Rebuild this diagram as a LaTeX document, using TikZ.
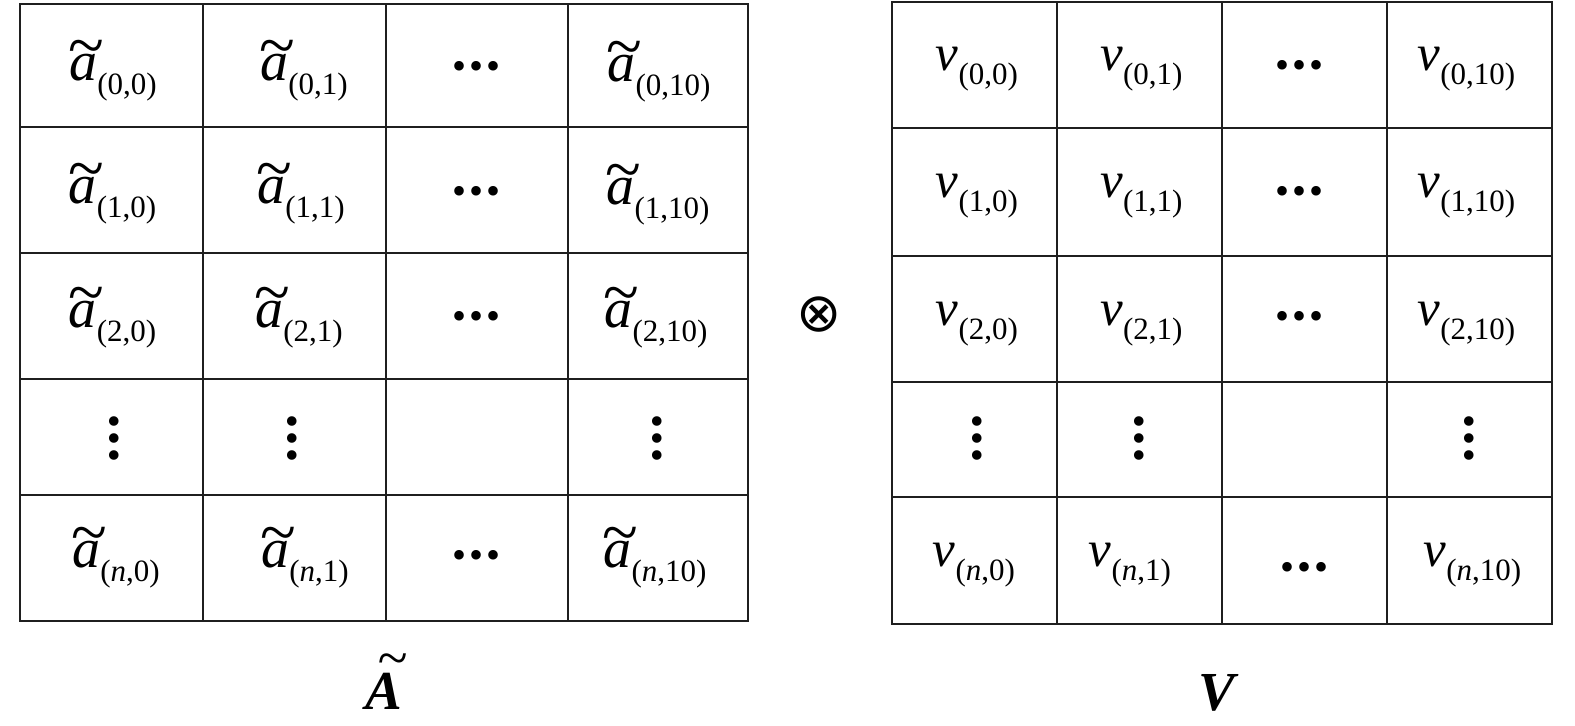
\documentclass[tikz,border=0pt]{standalone}
\usepackage{fontspec}
\setmainfont{Liberation Serif}
\newfontfamily\djv{DejaVu Sans}
\tikzset{
  x=0.5pt, y=-0.5pt,
  gridline/.style={line width=1.35pt, draw=black!88},
  entry/.style={inner sep=0pt, anchor=base},
  dotsbox/.style={inner sep=0pt, anchor=center},
  vdotsbox/.style={inner sep=0pt, anchor=center, rotate=90},
  biglabel/.style={inner sep=0pt, anchor=base, font=\fontsize{27.5}{28}\selectfont\bfseries\itshape},
}
\newcommand\asz{\fontsize{28}{30}\selectfont}
\newcommand\vsz{\fontsize{25.5}{30}\selectfont}
\newcommand\subsz{\fontsize{15.5}{16}\selectfont}
\newcommand\tila{\rlap{\raisebox{6.6pt}{\hspace{-0.4pt}\fontsize{33}{33}\selectfont\char"7E}}\textit{a}}
\newcommand\ta[1]{{\asz\tila}\raisebox{-7pt}{\subsz(#1)}}
\newcommand\tv[1]{{\vsz\textit{v}}\raisebox{-7pt}{\subsz(#1)}}
\newcommand\tilA{\rlap{\raisebox{16.8pt}{\hspace{5.8pt}\mdseries\char"7E}}A}
\newcommand\hdotsx{{\fontsize{20}{20}\selectfont\textbullet\kern1.5pt\textbullet\kern1.5pt\textbullet}}
\begin{document}
\begin{tikzpicture}
\useasboundingbox (0,0) rectangle (1575,726);
% left grid
\draw[gridline] (20,4) rectangle (748,621);
\foreach \x in {203,386,568} \draw[gridline] (\x,4) -- (\x,621);
\foreach \y in {127,253,379,495} \draw[gridline] (20,\y) -- (748,\y);
% right grid
\draw[gridline] (892,2) rectangle (1552,624);
\foreach \x in {1057,1222,1387} \draw[gridline] (\x,2) -- (\x,624);
\foreach \y in {128,256,382,497} \draw[gridline] (892,\y) -- (1552,\y);
% left entries
\node[entry] (a00) at (113,81) {\ta{0,0}};
\node[entry] (a01) at (304,81) {\ta{0,1}};
\node[dotsbox] (a0d) at (477,70.7) {\hdotsx};
\node[entry] (a010) at (659,82) {\ta{0,10}};
\node[entry] (a10) at (112.5,204) {\ta{1,0}};
\node[entry] (a11) at (301,204) {\ta{1,1}};
\node[dotsbox] (a1d) at (477,195.7) {\hdotsx};
\node[entry] (a110) at (658,205) {\ta{1,10}};
\node[entry] (a20) at (112.5,328) {\ta{2,0}};
\node[entry] (a21) at (299,328) {\ta{2,1}};
\node[dotsbox] (a2d) at (477,320.7) {\hdotsx};
\node[entry] (a210) at (656,328) {\ta{2,10}};
\node[vdotsbox] (a30) at (118.7,438) {\hdotsx};
\node[vdotsbox] (a31) at (296.7,438) {\hdotsx};
\node[vdotsbox] (a310) at (661.7,438) {\hdotsx};
\node[entry] (an0) at (116,568) {\ta{\textit{n},0}};
\node[entry] (an1) at (305,568) {\ta{\textit{n},1}};
\node[dotsbox] (and) at (477,559.7) {\hdotsx};
\node[entry] (an10) at (655,568) {\ta{\textit{n},10}};
% right entries
\node[entry] (v00) at (977,71) {\tv{0,0}};
\node[entry] (v01) at (1141.5,71) {\tv{0,1}};
\node[dotsbox] (v0d) at (1299,69.7) {\hdotsx};
\node[entry] (v010) at (1466.5,71) {\tv{0,10}};
\node[entry] (v10) at (977,198) {\tv{1,0}};
\node[entry] (v11) at (1141.5,198) {\tv{1,1}};
\node[dotsbox] (v1d) at (1299,195.7) {\hdotsx};
\node[entry] (v110) at (1466.5,198) {\tv{1,10}};
\node[entry] (v20) at (977,326) {\tv{2,0}};
\node[entry] (v21) at (1141.5,326) {\tv{2,1}};
\node[dotsbox] (v2d) at (1299,320.7) {\hdotsx};
\node[entry] (v210) at (1466.5,326) {\tv{2,10}};
\node[vdotsbox] (v30) at (981.7,438) {\hdotsx};
\node[vdotsbox] (v31) at (1143.7,438) {\hdotsx};
\node[vdotsbox] (v310) at (1473.7,438) {\hdotsx};
\node[entry] (vn0) at (974,567) {\tv{\textit{n},0}};
\node[entry] (vn1) at (1130,567) {\tv{\textit{n},1}};
\node[dotsbox] (vnd) at (1304,571.7) {\hdotsx};
\node[entry] (vn10) at (1472.5,567) {\tv{\textit{n},10}};
% operator and labels
\node[dotsbox, font=\fontsize{27}{27}\selectfont\djv] (op) at (819,315) {⊗};
\node[biglabel] (A) at (384,710) {\tilA};
\node[biglabel] (V) at (1217,711) {V};
\end{tikzpicture}
\end{document}
